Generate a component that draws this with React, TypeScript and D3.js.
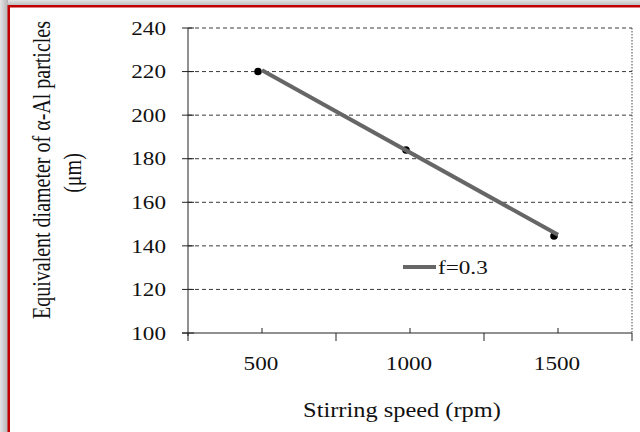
import React from "react";
import * as d3 from "d3";

// values
const speeds = [500, 1000, 1500];
const diameters = [220, 184, 144.5];
const yTicks = [100, 120, 140, 160, 180, 200, 220, 240];
const seriesLabel = "f=0.3";
const xTitle = "Stirring speed (rpm)";
const yTitle1 = "Equivalent diameter of \u03b1-Al particles";
const yTitle2 = "(\u03bcm)";

const W = 640, H = 432;
const left = 188, right = 632, top = 28, bottom = 333;
const font = "'Liberation Serif', 'Times New Roman', serif";
const sx = 1.22; // the picture is stretched sideways

export default function App() {
  const x = d3.scaleBand<number>().domain(speeds).range([left, right]);
  const cx = (d: number) => (x(d) as number) + x.bandwidth() / 2;
  const y = d3.scaleLinear().domain([100, 240]).range([bottom, top]);

  // linear trend line through the points
  const mx = d3.mean(speeds) as number;
  const my = d3.mean(diameters) as number;
  const slope =
    d3.sum(speeds.map((s, i) => (s - mx) * (diameters[i] - my))) /
    d3.sum(speeds.map((s) => (s - mx) * (s - mx)));
  const fit = (s: number) => my + slope * (s - mx);
  const fitLine = d3
    .line<number>()
    .x((s) => cx(s))
    .y((s) => y(fit(s)));

  const majors = [...speeds.map((s) => x(s) as number), right];

  const txt = (tx: number, ty: number, extra = "") =>
    `translate(${tx},${ty}) scale(${sx},1)${extra}`;

  return (
    <svg
      width={W}
      height={H}
      style={{ position: "absolute", left: 0, top: 0, background: "#fff" }}
      fontFamily={font}
    >
      <defs>
        <linearGradient id="gt" x1="0" y1="0" x2="0" y2="1">
          <stop offset="0" stopColor="#e4e4e4" />
          <stop offset="1" stopColor="#b8b8b8" />
        </linearGradient>
        <linearGradient id="gl" x1="0" y1="0" x2="1" y2="0">
          <stop offset="0" stopColor="#e4e4e4" />
          <stop offset="1" stopColor="#b4b4b4" />
        </linearGradient>
      </defs>
      <rect x={0} y={0} width={W} height={6} fill="url(#gt)" />
      <rect x={0} y={0} width={8} height={H} fill="url(#gl)" />
      <rect x={8} y={5} width={W} height={2.5} fill="#c00000" />
      <rect x={7.5} y={5} width={2.5} height={H} fill="#c00000" />

      {/* gridlines */}
      {yTicks.slice(1).map((t) => (
        <line
          key={t}
          x1={left}
          x2={right}
          y1={y(t)}
          y2={y(t)}
          stroke="#3a3a3a"
          strokeWidth={1}
          strokeDasharray="4,3"
        />
      ))}
      <line x1={right} x2={right} y1={top} y2={bottom} stroke="#444" strokeDasharray="1.5,1.5" />

      {/* y axis */}
      <line x1={left} x2={left} y1={top} y2={bottom + 3} stroke="#222" />
      {yTicks.map((t) => (
        <g key={t}>
          <line x1={left - 6} x2={left + 6} y1={y(t)} y2={y(t)} stroke="#222" />
          <text
            transform={txt(166, y(t))}
            textAnchor="end"
            dy="0.35em"
            fontSize={19}
            fill="#111"
          >
            {t}
          </text>
        </g>
      ))}

      {/* x axis */}
      <line x1={left - 6} x2={right} y1={bottom} y2={bottom} stroke="#222" />
      {majors.map((m, i) => (
        <line key={i} x1={m} x2={m} y1={bottom} y2={bottom + 8} stroke="#222" />
      ))}
      {speeds.map((s) => (
        <g key={s}>
          <line x1={cx(s)} x2={cx(s)} y1={bottom} y2={bottom - 5} stroke="#222" />
          <text
            transform={txt(cx(s) - 1, 370)}
            textAnchor="middle"
            fontSize={19}
            fill="#111"
          >
            {s}
          </text>
        </g>
      ))}
      <text transform={txt(402, 417)} textAnchor="middle" fontSize={20} fill="#111">
        {xTitle}
      </text>

      {/* y title */}
      <text
        transform={txt(50, 170, " rotate(-90)")}
        textAnchor="middle"
        fontSize={20}
        fill="#111"
      >
        {yTitle1}
      </text>
      <text
        transform={txt(81, 173, " rotate(-90)")}
        textAnchor="middle"
        fontSize={20}
        fill="#111"
      >
        {yTitle2}
      </text>

      {/* points and trend */}
      {speeds.map((s, i) => (
        <circle key={s} cx={cx(s) - 4} cy={y(diameters[i])} r={3.8} fill="#000" />
      ))}
      <path
        d={fitLine([speeds[0], speeds[speeds.length - 1]]) as string}
        fill="none"
        stroke="#666"
        strokeWidth={4}
      />

      {/* legend */}
      <line x1={403} x2={436} y1={267} y2={267} stroke="#666" strokeWidth={4} />
      <text transform={txt(438, 274)} fontSize={19} fill="#111">
        {seriesLabel}
      </text>
    </svg>
  );
}
